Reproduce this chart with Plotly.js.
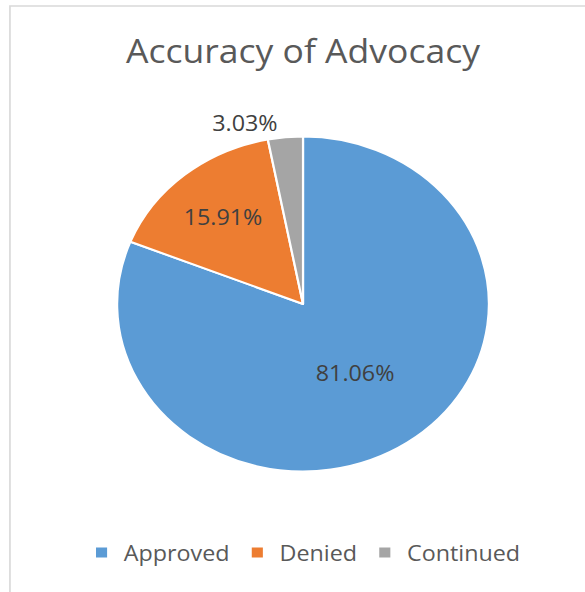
<!DOCTYPE html>
<html>
<head>
<meta charset="utf-8">
<script src="https://cdn.plot.ly/plotly-3.0.1.min.js"></script>
<style>
html,body{margin:0;padding:0;background:#fff;overflow:hidden;}
#wrap{width:585px;height:592px;overflow:hidden;}
#chart{width:527px;height:592px;transform:scaleX(1.11);transform-origin:0 0;}
</style>
</head>
<body>
<div id="wrap"><div id="chart"></div></div>
<script>
var categories = ["Approved", "Denied", "Continued"];
var shares = [81.06, 15.91, 3.03];
var sliceColors = ["#5B9BD5", "#ED7D31", "#A5A5A5"];
var labelPositions = ["inside", "inside", "outside"];

var trace = {
  type: "pie",
  labels: categories,
  values: shares,
  sort: false,
  direction: "clockwise",
  rotation: 0,
  marker: {colors: sliceColors, line: {color: "#ffffff", width: 2}},
  texttemplate: "%{value:.2f}%",
  textposition: labelPositions,
  insidetextorientation: "horizontal",
  textfont: {family: "Open Sans, sans-serif", size: 21, color: "#404040"},
  outsidetextfont: {family: "Open Sans, sans-serif", size: 21, color: "#404040"},
  hoverinfo: "label+percent",
  domain: {x: [0.188, 0.848], y: [0.2036, 0.7694]}
};

var layout = {
  width: 527,
  height: 592,
  margin: {l: 0, r: 0, t: 0, b: 0},
  paper_bgcolor: "#ffffff",
  title: {
    text: "Accuracy of Advocacy",
    x: 0.518, xanchor: "center",
    y: 0.912, yanchor: "middle", yref: "container",
    font: {family: "Open Sans, sans-serif", size: 32, color: "#595959"}
  },
  showlegend: true,
  legend: {
    orientation: "h",
    x: 0.518, xanchor: "center",
    y: 0.066, yanchor: "middle",
    font: {family: "Open Sans, sans-serif", size: 21, color: "#595959"},
    itemsizing: "constant",
    itemwidth: 30
  },
  shapes: [{
    type: "rect", xref: "paper", yref: "paper",
    x0: 0.017, x1: 1.2, y0: -0.2, y1: 0.99,
    line: {color: "#d9d9d9", width: 1.5},
    fillcolor: "rgba(0,0,0,0)", layer: "below"
  }]
};

Plotly.newPlot("chart", [trace], layout, {displayModeBar: false, staticPlot: true});
</script>
</body>
</html>
